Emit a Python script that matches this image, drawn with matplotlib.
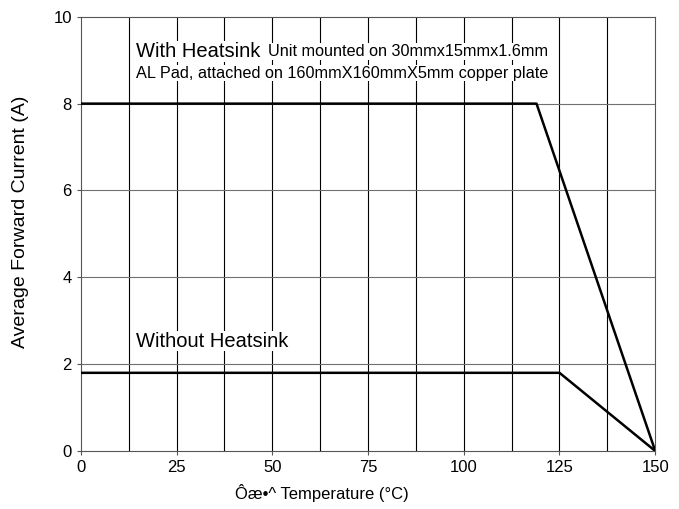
import matplotlib

matplotlib.use("Agg")
import matplotlib.pyplot as plt  # noqa: E402
import numpy as np  # noqa: E402

plt.rcParams["font.family"] = ["Liberation Sans", "DejaVu Sans"]

# derating curves (temperature in degC, current in A)
with_hs_temp = [0, 119, 150]
with_hs_curr = [8.0, 8.0, 0.0]
without_hs_temp = [0, 125, 150]
without_hs_curr = [1.8, 1.8, 0.0]

x_ticks = [0, 25, 50, 75, 100, 125, 150]
y_ticks = [0, 2, 4, 6, 8, 10]
x_grid = np.arange(0, 150.1, 12.5)

fig = plt.figure(figsize=(6.79, 5.09), dpi=100)
ax = fig.add_axes([0.119, 0.114, 0.846, 0.853])

for xv in x_grid[1:-1]:
    ax.axvline(xv, color="black", lw=0.8, zorder=1)
for yv in y_ticks[1:-1]:
    ax.axhline(yv, color="#707070", lw=0.8, zorder=1)

ax.plot(with_hs_temp, with_hs_curr, color="black", lw=1.8, zorder=3)
ax.plot(without_hs_temp, without_hs_curr, color="black", lw=1.8, zorder=3)

box = dict(facecolor="white", edgecolor="none", pad=0.5)
ax.text(14.4, 9.2, "With Heatsink", fontsize=14.5, va="center", bbox=box, zorder=2)
ax.text(48.8, 9.2, "Unit mounted on 30mmx15mmx1.6mm", fontsize=11.7,
        va="center", bbox=box, zorder=2)
ax.text(14.4, 8.7, "AL Pad, attached on 160mmX160mmX5mm copper plate",
        fontsize=11.7, va="center", bbox=box, zorder=2)
ax.text(14.4, 2.53, "Without Heatsink", fontsize=14.5, va="center", bbox=box, zorder=2)

ax.set_xlim(0, 150)
ax.set_ylim(0, 10)
ax.set_xticks(x_ticks)
ax.set_yticks(y_ticks)
ax.tick_params(labelsize=12, length=3, color="#555555")
for s in ax.spines.values():
    s.set_color("#555555")
ax.set_xlabel("Ôæ•^ Temperature (°C)", fontsize=12)
ax.set_ylabel("Average Forward Current (A)", fontsize=14)
ax.xaxis.set_label_coords(0.42, -0.075)
ax.yaxis.set_label_coords(-0.09, 0.528)

fig.savefig("out.png", dpi=100)
